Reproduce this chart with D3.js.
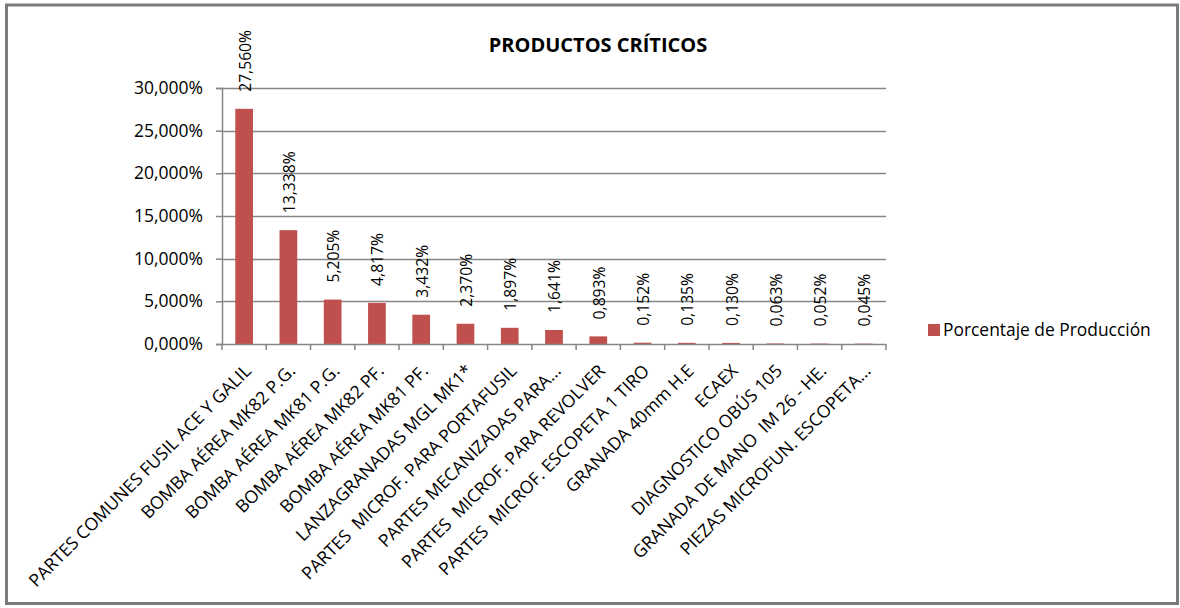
<!DOCTYPE html>
<html>
<head>
<meta charset="utf-8">
<script src="https://cdn.jsdelivr.net/npm/d3@7"></script>
<style>
  html, body { margin: 0; padding: 0; background: #fff; }
  svg { display: block; }
  text { font-family: "Open Sans", "Noto Sans", sans-serif; fill: #000; white-space: pre; }
</style>
</head>
<body>
<svg id="chart" width="1180" height="608"></svg>
<script>
const title = "PRODUCTOS CRÍTICOS";
const seriesName = "Porcentaje de Producción";
const categories = [
  "PARTES COMUNES FUSIL ACE Y GALIL",
  "BOMBA AÉREA MK82 P.G.",
  "BOMBA AÉREA MK81 P.G.",
  "BOMBA AÉREA MK82 PF.",
  "BOMBA AÉREA MK81 PF.",
  "LANZAGRANADAS MGL MK1*",
  "PARTES  MICROF. PARA PORTAFUSIL",
  "PARTES MECANIZADAS PARA...",
  "PARTES  MICROF. PARA REVOLVER",
  "PARTES  MICROF. ESCOPETA 1 TIRO",
  "GRANADA 40mm H.E",
  "ECAEX",
  "DIAGNOSTICO OBÚS 105",
  "GRANADA DE MANO  IM 26 - HE.",
  "PIEZAS MICROFUN. ESCOPETA..."
];
const values = [27.560, 13.338, 5.205, 4.817, 3.432, 2.370, 1.897, 1.641, 0.893, 0.152, 0.135, 0.130, 0.063, 0.052, 0.045];
const yTicks = [0, 5, 10, 15, 20, 25, 30];

const loc = d3.formatLocale({decimal: ",", thousands: ".", grouping: [3], currency: ["", ""]});
const fmt3 = loc.format(".3f");
const pct = v => fmt3(v) + "%";

const svg = d3.select("#chart");
const plot = {left: 222, right: 886, top: 88, bottom: 344};
const barColor = "#C0504D";
const gridColor = "#868686";

// outer border
svg.append("rect").attr("x", 6.5).attr("y", 5).attr("width", 1171).attr("height", 598.5)
  .attr("fill", "#fff").attr("stroke", "#7a7a7a").attr("stroke-width", 3);

const x = d3.scaleBand().domain(categories).range([plot.left, plot.right]).paddingInner(0).paddingOuter(0);
const y = d3.scaleLinear().domain([0, 30]).range([plot.bottom, plot.top]);

// gridlines
svg.append("g").selectAll("line").data(yTicks.filter(d => d > 0)).join("line")
  .attr("x1", plot.left).attr("x2", plot.right)
  .attr("y1", d => Math.round(y(d)) + 0.5).attr("y2", d => Math.round(y(d)) + 0.5)
  .attr("stroke", gridColor).attr("stroke-width", 1.5);

// y axis
const yAxis = svg.append("g").attr("transform", `translate(${plot.left},0)`)
  .call(d3.axisLeft(y).tickValues(yTicks).tickFormat(pct).tickSize(6).tickPadding(13));
yAxis.select(".domain").attr("stroke", gridColor).attr("stroke-width", 1.5);
yAxis.selectAll(".tick line").attr("stroke", gridColor).attr("stroke-width", 1.5);
yAxis.selectAll(".tick text").attr("font-size", "17.5px").attr("font-family", "Open Sans").attr("fill", "#000");

// bars
const bw = x.bandwidth() * 0.4;
svg.append("g").selectAll("rect").data(values).join("rect")
  .attr("x", (d, i) => x(categories[i]) + (x.bandwidth() - bw) / 2)
  .attr("width", bw)
  .attr("y", d => y(d))
  .attr("height", d => y(0) - y(d))
  .attr("fill", barColor);

// x axis
const xAxis = svg.append("g").attr("transform", `translate(0,${plot.bottom})`)
  .call(d3.axisBottom(x).tickSize(0).tickFormat(""));
xAxis.select(".domain").attr("stroke", gridColor).attr("stroke-width", 1.5);
xAxis.selectAll(".tick").remove();
// tick marks at band boundaries
const bounds = categories.map(c => x(c)).concat([plot.right]);
svg.append("g").selectAll("line").data(bounds).join("line")
  .attr("x1", d => d).attr("x2", d => d)
  .attr("y1", plot.bottom).attr("y2", plot.bottom + 6)
  .attr("stroke", gridColor).attr("stroke-width", 1.5);

// category labels
svg.append("g").selectAll("text").data(categories).join("text")
  .attr("transform", c => `translate(${x(c) + x.bandwidth() / 2 + 8},${plot.bottom + 28}) rotate(-45)`)
  .attr("text-anchor", "end")
  .attr("font-size", "17.6px")
  .text(c => c);

// value labels
svg.append("g").selectAll("text").data(values).join("text")
  .attr("transform", (d, i) => `translate(${x(categories[i]) + x.bandwidth() / 2},${y(d) - 17}) rotate(-90)`)
  .attr("text-anchor", "start")
  .attr("dy", "0.41em")
  .attr("font-size", "15.7px")
  .text(d => pct(d));

// title
svg.append("text").attr("x", 598).attr("y", 51.5).attr("text-anchor", "middle")
  .attr("font-size", "20px").attr("font-weight", "bold").text(title);

// legend
const lg = svg.append("g");
lg.append("rect").attr("x", 928).attr("y", 324).attr("width", 12).attr("height", 12).attr("fill", barColor);
lg.append("text").attr("x", 943).attr("y", 335.7).attr("font-size", "17.4px").text(seriesName);
</script>
</body>
</html>
